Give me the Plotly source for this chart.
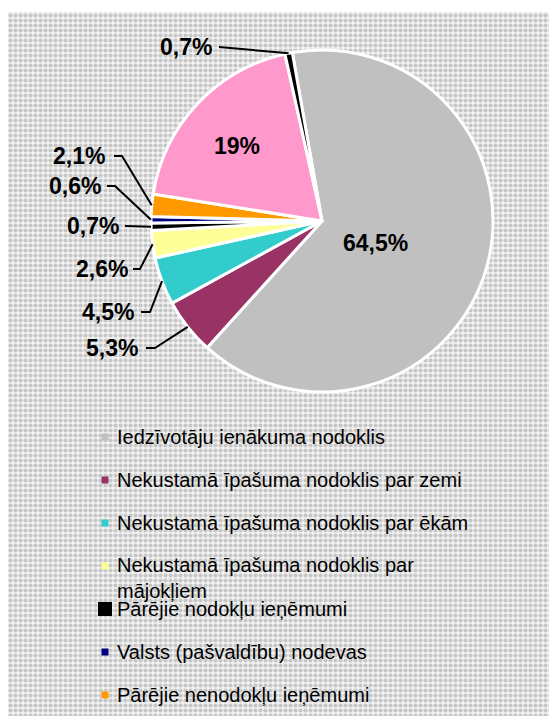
import math
import plotly.graph_objects as go

# ---- data ----
labels = [
    "Iedzīvotāju ienākuma nodoklis",
    "Nekustamā īpašuma nodoklis par zemi",
    "Nekustamā īpašuma nodoklis par ēkām",
    "Nekustamā īpašuma nodoklis par<br>mājokļiem",
    "Pārējie nodokļu ieņēmumi",
    "Valsts (pašvaldību) nodevas",
    "Pārējie nenodokļu ieņēmumi",
    "Transferti",
    "Citi ieņēmumi",
]
values = [64.5, 5.3, 4.5, 2.6, 0.7, 0.6, 2.1, 19.0, 0.7]
colors = ["#C0C0C0", "#993366", "#33CCCC", "#FFFF99", "#000000",
          "#000080", "#FF9900", "#FF99CC", "#000000"]
legend_count = 7  # entries visible in the (clipped) legend


def fmt(v):
    s = f"{v:g}".replace(".", ",")
    return s + "%"


texts = [fmt(v) for v in values]

# ---- layout constants (screen pixels) ----
W, H = 557, 716
OFF = 8  # page body margin
CX, CY, R = 322, 221, 171
ROT = -10
FONT = "Liberation Sans, Arial, sans-serif"
LBL_SIZE = 23
LEG_SIZE = 20

# inside label placements: index -> (x, y)
in_labels = {0: (375, 243), 7: (237, 146)}
# outside label placements: index -> (text center x, y, line start x, elbow x)
out_labels = {
    8: (186, 47, 219, 219),
    6: (79, 156, 114, 122),
    5: (75, 186, 107, 115),
    4: (93, 226, 125, 125),
    3: (102, 269, 133, 140),
    2: (108, 312, 141, 150),
    1: (112, 348, 146, 155),
}

fig = go.Figure()

# patterned background
fig.add_trace(go.Scatter(
    x=[7, W + 20, W + 20, 7, 7], y=[12, 12, H + 20, H + 20, 12], mode="lines",
    fill="toself", line=dict(width=0), hoverinfo="skip", showlegend=False,
    fillcolor="#e4e4e4",
    fillpattern=dict(shape=".", fgcolor="#9a9a9a", bgcolor="#f2f2f2",
                     size=5, solidity=0.55),
))

fig.add_trace(go.Pie(
    labels=labels, values=values,
    sort=False, direction="clockwise", rotation=ROT,
    marker=dict(colors=colors, line=dict(color="white", width=3)),
    textinfo="none",
    domain=dict(x=[(CX - OFF - R) / W, (CX - OFF + R) / W],
                y=[1 - (CY - OFF + R) / H, 1 - (CY - OFF - R) / H]),
    showlegend=False, hoverinfo="label+percent",
))

# slice mid angles
total = sum(values)
cum = 0
mids = []
for v in values:
    mids.append(ROT + 360 * (cum + v / 2) / total)
    cum += v

annotations = []
shapes = []
lblfont = dict(family=FONT, size=LBL_SIZE, color="black")
for i, (tx, ty) in in_labels.items():
    annotations.append(dict(
        x=tx, y=ty, xref="x", yref="y", text=f"<b>{texts[i]}</b>",
        showarrow=False, font=lblfont, xanchor="center", yanchor="middle"))

for i, (tx, ty, sx, ex) in out_labels.items():
    a = math.radians(mids[i])
    px = CX + R * math.sin(a)
    py = CY - R * math.cos(a)
    annotations.append(dict(
        x=tx, y=ty, xref="x", yref="y", text=f"<b>{texts[i]}</b>",
        showarrow=False, font=lblfont, xanchor="center", yanchor="middle"))
    shapes.append(dict(
        type="path", xref="x", yref="y",
        path=f"M {sx},{ty} L {ex},{ty} L {px:.1f},{py:.1f}",
        line=dict(color="black", width=2)))

# custom legend
LX, LY0, LDY = 105, 437, 43
for i in range(legend_count):
    y = LY0 + i * LDY
    nlines = labels[i].count("<br>") + 1
    s = 7 if i == 4 else 3.5
    shapes.append(dict(type="rect", xref="x", yref="y",
                       x0=LX - s, x1=LX + s, y0=y - s, y1=y + s,
                       fillcolor=colors[i], line=dict(width=0)))
    annotations.append(dict(
        x=115, y=y + (nlines - 1) * 12, xref="x", yref="y",
        text=labels[i], showarrow=False, align="left",
        font=dict(family=FONT, size=LEG_SIZE, color="black"),
        xanchor="left", yanchor="middle"))

fig.update_layout(
    width=W, height=H,
    margin=dict(l=0, r=0, t=0, b=0),
    paper_bgcolor="white", plot_bgcolor="white",
    xaxis=dict(range=[OFF, W + OFF], visible=False, fixedrange=True, domain=[0, 1]),
    yaxis=dict(range=[H + OFF, OFF], visible=False, fixedrange=True, domain=[0, 1]),
    annotations=annotations, shapes=shapes,
    showlegend=False,
)

fig.write_html("out.html")
